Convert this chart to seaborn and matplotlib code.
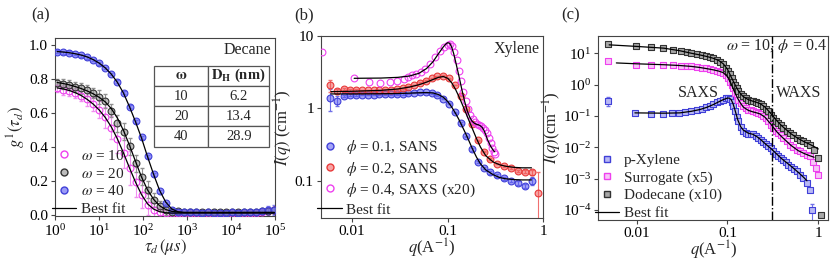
import matplotlib
matplotlib.use("Agg")
import matplotlib.pyplot as plt
from matplotlib.lines import Line2D
from matplotlib.ticker import NullLocator, LogLocator, FixedLocator
import seaborn as sns

# ---------------- panel (a): DLS correlation, decane ----------------
tau = [1.12, 1.54, 2.11, 2.89, 3.96, 5.43, 7.45, 10.2, 14.0, 19.2, 26.3, 36.1, 49.4,
       67.8, 92.9, 127, 175, 239, 328, 450, 617, 846, 1160, 1590, 2180, 2990, 4100,
       5620, 7710, 10600, 14500, 19900, 27300, 37400, 51300, 70300, 96400]
g_w10 = [0.745, 0.735, 0.73, 0.718, 0.70, 0.68, 0.655, 0.62, 0.575, 0.515, 0.445, 0.365,
         0.278, 0.195, 0.12, 0.062, 0.03, 0.017, 0.012, 0.010, 0.012, 0.011, 0.010, 0.012,
         0.010, 0.011, 0.010, 0.009, 0.011, 0.010, 0.012, 0.011, 0.013, 0.015, 0.020, 0.025, 0.030]
g_w20 = [0.778, 0.772, 0.765, 0.755, 0.745, 0.733, 0.72, 0.695, 0.672, 0.615, 0.54, 0.49,
         0.405, 0.305, 0.225, 0.15, 0.09, 0.052, 0.028, 0.02, 0.022, 0.020, 0.021, 0.020,
         0.019, 0.020, 0.021, 0.020, 0.019, 0.020, 0.018, 0.020, 0.021, 0.020, 0.022, 0.025, 0.028]
g_w40 = [0.962, 0.958, 0.955, 0.948, 0.94, 0.928, 0.912, 0.893, 0.866, 0.83, 0.785, 0.72,
         0.637, 0.552, 0.457, 0.345, 0.24, 0.14, 0.072, 0.03, 0.02, 0.017, 0.016, 0.016,
         0.015, 0.016, 0.015, 0.014, 0.015, 0.016, 0.015, 0.016, 0.018, 0.020, 0.022, 0.028, 0.030]
e_w10 = [0.02, 0.03, 0.03, 0.03, 0.03, 0.04, 0.04, 0.05, 0.06, 0.07, 0.08, 0.09, 0.10,
         0.09, 0.08, 0.06, 0.04, 0.03, 0.02, 0.008, 0.01, 0.008, 0.01, 0.008, 0.01, 0.008,
         0.01, 0.008, 0.01, 0.008, 0.01, 0.008, 0.01, 0.01, 0.012, 0.015, 0.02]
e_w20 = [0.02, 0.03, 0.03, 0.03, 0.03, 0.03, 0.03, 0.04, 0.04, 0.04, 0.05, 0.05, 0.05,
         0.05, 0.05, 0.05, 0.04, 0.03, 0.03, 0.02, 0.015, 0.012, 0.015, 0.012, 0.012, 0.012,
         0.012, 0.01, 0.01, 0.01, 0.01, 0.01, 0.01, 0.01, 0.012, 0.015, 0.02]
e_w40 = [0.008, 0.008, 0.008, 0.008, 0.008, 0.008, 0.008, 0.008, 0.008, 0.008, 0.008, 0.008,
         0.008, 0.008, 0.008, 0.008, 0.008, 0.008, 0.008, 0.008, 0.008, 0.005, 0.005, 0.005,
         0.005, 0.005, 0.005, 0.005, 0.005, 0.005, 0.005, 0.005, 0.006, 0.008, 0.01, 0.025, 0.03]
fit_w10 = [0.748, 0.742, 0.733, 0.72, 0.703, 0.68, 0.652, 0.617, 0.573, 0.517, 0.447, 0.365,
           0.277, 0.193, 0.12, 0.066, 0.035, 0.02, 0.014, 0.012, 0.012, 0.012, 0.012, 0.012,
           0.012, 0.012, 0.012, 0.012, 0.012, 0.012, 0.012, 0.012, 0.012, 0.012, 0.012, 0.012, 0.012]
fit_w20 = [0.78, 0.774, 0.766, 0.756, 0.744, 0.73, 0.713, 0.692, 0.665, 0.625, 0.57, 0.497,
           0.41, 0.315, 0.223, 0.148, 0.092, 0.055, 0.033, 0.022, 0.018, 0.016, 0.016, 0.016,
           0.016, 0.016, 0.016, 0.016, 0.016, 0.016, 0.016, 0.016, 0.016, 0.016, 0.016, 0.016, 0.016]
fit_w40 = [0.962, 0.959, 0.955, 0.949, 0.941, 0.93, 0.914, 0.893, 0.865, 0.828, 0.78, 0.717,
           0.637, 0.548, 0.452, 0.343, 0.238, 0.145, 0.077, 0.036, 0.02, 0.015, 0.015, 0.015,
           0.015, 0.015, 0.015, 0.015, 0.015, 0.015, 0.015, 0.015, 0.015, 0.015, 0.015, 0.015, 0.015]
table_omega = ["10", "20", "40"]
table_dh = ["6.2", "13.4", "28.9"]

# ---------------- panel (b): SANS / SAXS, xylene ----------------
q_01 = [0.0058, 0.0069, 0.0082, 0.0095, 0.011, 0.0127, 0.0146, 0.0168, 0.0193, 0.0222,
        0.0255, 0.0293, 0.0337, 0.0388, 0.0446, 0.0513, 0.059, 0.0678, 0.078, 0.0897,
        0.103, 0.119, 0.136, 0.157, 0.18, 0.207, 0.238, 0.274, 0.33, 0.39, 0.46, 0.54, 0.64, 0.76]
I_01 = [1.38, 1.28, 1.48, 1.53, 1.54, 1.55, 1.55, 1.55, 1.56, 1.56, 1.57, 1.56, 1.58, 1.62,
        1.65, 1.67, 1.67, 1.63, 1.52, 1.36, 1.15, 0.88, 0.63, 0.41, 0.27, 0.18, 0.148, 0.13,
        0.118, 0.107, 0.1, 0.093, 0.085, 0.1]
e_01 = [0.45, 0.2, 0.05, 0.04, 0.04, 0.03, 0.03, 0.03, 0.03, 0.03, 0.03, 0.03, 0.03, 0.03,
        0.03, 0.03, 0.03, 0.03, 0.03, 0.03, 0.02, 0.02, 0.02, 0.01, 0.01, 0.005, 0.005, 0.005,
        0.005, 0.005, 0.005, 0.005, 0.006, 0.012]
q_02 = [0.0058, 0.0069, 0.0082, 0.0095, 0.011, 0.0127, 0.0146, 0.0168, 0.0193, 0.0222,
        0.0255, 0.0293, 0.0337, 0.0388, 0.0446, 0.0513, 0.059, 0.0678, 0.078, 0.0897,
        0.103, 0.119, 0.136, 0.157, 0.18, 0.207, 0.238, 0.274, 0.33, 0.39, 0.46, 0.54, 0.64,
        0.76, 0.87]
I_02 = [2.1, 1.72, 1.84, 1.8, 1.79, 1.78, 1.77, 1.77, 1.78, 1.79, 1.81, 1.84, 1.9, 1.98,
        2.1, 2.25, 2.42, 2.6, 2.78, 2.82, 2.6, 2.1, 1.5, 0.97, 0.6, 0.36, 0.25, 0.2, 0.172,
        0.16, 0.148, 0.137, 0.133, 0.13, 0.068]
e_02 = [0.4, 0.12, 0.05, 0.04, 0.04, 0.03, 0.03, 0.03, 0.03, 0.03, 0.03, 0.03, 0.03, 0.03,
        0.03, 0.03, 0.03, 0.03, 0.03, 0.03, 0.03, 0.02, 0.02, 0.01, 0.01, 0.005, 0.005, 0.005,
        0.005, 0.005, 0.005, 0.005, 0.006, 0.01, 0.065]
q_04 = [0.00487, 0.0105, 0.0149, 0.0197, 0.0251, 0.0295, 0.0345, 0.0385, 0.0425, 0.047,
        0.052, 0.058, 0.065, 0.073, 0.082, 0.092, 0.1, 0.105, 0.11, 0.117, 0.124, 0.131,
        0.138, 0.146, 0.154, 0.163, 0.172, 0.182, 0.192, 0.203, 0.214, 0.225, 0.236, 0.246,
        0.257, 0.268, 0.28, 0.292, 0.305, 0.315]
I_04 = [6.1, 2.6, 2.34, 2.27, 2.34, 2.42, 2.55, 2.7, 2.85, 3.0, 3.22, 3.55, 4.15, 5.1, 6.2,
        7.1, 7.6, 7.8, 7.3, 6.1, 4.6, 3.3, 2.4, 1.7, 1.25, 0.98, 0.8, 0.7, 0.64, 0.6, 0.58,
        0.57, 0.54, 0.5, 0.45, 0.39, 0.33, 0.28, 0.25, 0.23]
qf_sans = [0.006, 0.01, 0.02, 0.03, 0.04, 0.05, 0.06, 0.07, 0.08, 0.09, 0.1, 0.11, 0.12,
           0.13, 0.14, 0.15, 0.16, 0.18, 0.2, 0.22, 0.25, 0.3, 0.35, 0.4, 0.5, 0.6, 0.75]
fit_01 = [1.58, 1.58, 1.59, 1.6, 1.62, 1.64, 1.65, 1.63, 1.55, 1.42, 1.24, 1.04, 0.86, 0.71,
          0.58, 0.48, 0.4, 0.28, 0.21, 0.17, 0.14, 0.12, 0.11, 0.106, 0.103, 0.102, 0.102]
fit_02 = [1.7, 1.72, 1.77, 1.85, 1.97, 2.12, 2.3, 2.5, 2.68, 2.75, 2.6, 2.25, 1.85, 1.48,
          1.18, 0.95, 0.77, 0.53, 0.38, 0.29, 0.22, 0.18, 0.165, 0.158, 0.152, 0.15, 0.15]
qf_saxs = [0.0105, 0.02, 0.03, 0.04, 0.05, 0.06, 0.07, 0.08, 0.09, 0.095, 0.1, 0.105, 0.11,
           0.115, 0.12, 0.13, 0.14, 0.15, 0.16, 0.17, 0.18, 0.19, 0.2, 0.21, 0.22, 0.23, 0.24,
           0.25, 0.26, 0.28, 0.3, 0.31]
fit_04 = [2.6, 2.62, 2.68, 2.8, 3.05, 3.55, 4.4, 5.7, 7.1, 7.7, 8.1, 7.9, 7.0, 5.8, 4.6, 2.9,
          1.85, 1.25, 0.92, 0.75, 0.66, 0.62, 0.6, 0.59, 0.57, 0.54, 0.49, 0.43, 0.37, 0.3,
          0.26, 0.25]

# ---------------- panel (c): SAXS + WAXS ----------------
q_px = [0.0049, 0.0096, 0.0145, 0.0197, 0.0243, 0.029, 0.034, 0.04, 0.046, 0.052, 0.058,
        0.064, 0.07, 0.076, 0.083, 0.09, 0.096, 0.102, 0.107, 0.111, 0.116, 0.121, 0.126,
        0.131, 0.14, 0.149, 0.159, 0.169, 0.18, 0.192, 0.205, 0.218, 0.232, 0.248, 0.264,
        0.281, 0.3, 0.32, 0.34, 0.363, 0.387, 0.412, 0.44, 0.47, 0.5, 0.54, 0.578, 0.63,
        0.684, 0.745, 0.81, 0.845]
I_px = [0.3, 0.126, 0.118, 0.117, 0.12, 0.122, 0.13, 0.14, 0.155, 0.17, 0.19, 0.21, 0.24,
        0.27, 0.3, 0.33, 0.36, 0.37, 0.34, 0.27, 0.2, 0.14, 0.095, 0.067, 0.045, 0.034, 0.029,
        0.027, 0.027, 0.026, 0.023, 0.02, 0.017, 0.0145, 0.0125, 0.011, 0.0093, 0.0078, 0.006,
        0.0052, 0.0046, 0.004, 0.0034, 0.0028, 0.0024, 0.002, 0.0017, 0.0013, 0.00104,
        0.00072, 0.00044, 0.0001]
q_px_err = [0.0049, 0.845]
I_px_err = [0.3, 0.0001]
e_px = [0.1, 0.00006]
q_su = [0.0049, 0.0098, 0.0145, 0.0197, 0.025, 0.031, 0.036, 0.04, 0.046, 0.052, 0.058,
        0.064, 0.07, 0.076, 0.083, 0.09, 0.096, 0.102, 0.107, 0.111, 0.116, 0.121, 0.126,
        0.131, 0.14, 0.149, 0.159, 0.169, 0.18, 0.192, 0.205, 0.218, 0.232, 0.248, 0.264,
        0.281, 0.3, 0.32, 0.34, 0.363, 0.387, 0.412, 0.45, 0.488, 0.53, 0.578, 0.63, 0.684,
        0.745, 0.81, 0.88, 0.94, 1.0]
I_su = [5.55, 4.35, 4.35, 4.35, 4.2, 4.0, 3.9, 3.8, 3.6, 3.45, 3.3, 3.1, 2.95, 2.8, 2.6,
        2.35, 2.0, 1.63, 1.25, 1.0, 0.75, 0.54, 0.42, 0.33, 0.25, 0.2, 0.175, 0.16, 0.15,
        0.14, 0.132, 0.125, 0.112, 0.098, 0.083, 0.067, 0.052, 0.041, 0.034, 0.028, 0.024,
        0.02, 0.016, 0.012, 0.01, 0.0084, 0.0074, 0.0065, 0.0058, 0.0051, 0.0035, 0.0022, 0.0013]
q_do = [0.0049, 0.0098, 0.0145, 0.0197, 0.025, 0.031, 0.036, 0.04, 0.046, 0.052, 0.058,
        0.064, 0.07, 0.076, 0.083, 0.09, 0.096, 0.102, 0.107, 0.111, 0.116, 0.121, 0.126,
        0.131, 0.14, 0.149, 0.159, 0.169, 0.18, 0.192, 0.205, 0.218, 0.232, 0.248, 0.264,
        0.281, 0.3, 0.32, 0.34, 0.363, 0.387, 0.412, 0.45, 0.488, 0.53, 0.578, 0.63, 0.684,
        0.745, 0.81, 0.9, 1.0, 1.06]
I_do = [19.0, 16.7, 15.9, 14.8, 13.1, 11.6, 10.7, 9.8, 9.2, 8.6, 8.0, 7.5, 6.9, 6.3, 5.4,
        4.4, 3.5, 2.66, 2.1, 1.63, 1.25, 1.0, 0.78, 0.61, 0.5, 0.42, 0.37, 0.33, 0.31, 0.29,
        0.275, 0.26, 0.235, 0.2, 0.17, 0.14, 0.11, 0.085, 0.07, 0.059, 0.05, 0.041, 0.034,
        0.028, 0.024, 0.0197, 0.0175, 0.0155, 0.0137, 0.0121, 0.0084, 0.0045, 0.00007]
qf_px = [0.0096, 0.02, 0.03, 0.04, 0.05, 0.06, 0.07, 0.08, 0.09, 0.1, 0.105, 0.11, 0.115,
         0.12, 0.13, 0.14, 0.15, 0.17, 0.19, 0.21, 0.23, 0.26, 0.3, 0.35, 0.4, 0.5, 0.6, 0.7, 0.75]
fit_px = [0.125, 0.122, 0.125, 0.14, 0.16, 0.19, 0.23, 0.28, 0.33, 0.37, 0.37, 0.33, 0.25,
          0.17, 0.075, 0.045, 0.035, 0.028, 0.026, 0.022, 0.018, 0.013, 0.0092, 0.006, 0.0042,
          0.0025, 0.0016, 0.00105, 0.00085]
qf_su = [0.006, 0.01, 0.02, 0.03, 0.04, 0.05, 0.06, 0.07, 0.08, 0.09, 0.1, 0.11, 0.12, 0.13,
         0.14, 0.15, 0.17, 0.19, 0.21, 0.23, 0.26, 0.3, 0.35, 0.4, 0.5, 0.6, 0.7, 0.8, 0.9]
fit_su = [4.9, 4.6, 4.3, 4.05, 3.8, 3.5, 3.2, 2.95, 2.7, 2.4, 1.8, 1.05, 0.58, 0.36, 0.25,
          0.19, 0.15, 0.135, 0.125, 0.115, 0.09, 0.055, 0.031, 0.021, 0.0115, 0.0078, 0.0063,
          0.0054, 0.0048]
qf_do = [0.005, 0.01, 0.02, 0.03, 0.04, 0.05, 0.06, 0.07, 0.08, 0.09, 0.1, 0.11, 0.12, 0.13,
         0.14, 0.15, 0.17, 0.19, 0.21, 0.23, 0.26, 0.3, 0.35, 0.4, 0.5, 0.6, 0.7, 0.8, 0.9, 1.0]
fit_do = [18.5, 16.5, 14.5, 12.0, 10.0, 8.8, 7.8, 6.9, 5.9, 4.6, 3.1, 1.75, 1.05, 0.68, 0.5,
          0.41, 0.33, 0.295, 0.27, 0.245, 0.19, 0.12, 0.07, 0.047, 0.027, 0.019, 0.015,
          0.0125, 0.0105, 0.0088]
q_saxs_waxs = 0.31

# ---------------- style ----------------
sns.set_style("ticks")
plt.rcParams["font.family"] = ["Liberation Serif", "DejaVu Serif"]
plt.rcParams["mathtext.fontset"] = "stix"
plt.rcParams["font.size"] = 11
plt.rcParams["axes.edgecolor"] = "#444444"
plt.rcParams["axes.linewidth"] = 0.8
plt.rcParams["xtick.color"] = "#444444"
plt.rcParams["ytick.color"] = "#444444"
plt.rcParams["xtick.labelcolor"] = "black"
plt.rcParams["ytick.labelcolor"] = "black"
plt.rcParams["xtick.major.size"] = 3
plt.rcParams["ytick.major.size"] = 3

FS = 11
BLUE = "#4040d8"
PINK = "#ee40ee"
RED = "#e83a3a"

fig = plt.figure(figsize=(8.31, 2.64), dpi=100)
ax_a = fig.add_axes([0.0662, 0.182, 0.2647, 0.673])
ax_b = fig.add_axes([0.386, 0.173, 0.2679, 0.6905])
ax_c = fig.add_axes([0.72, 0.167, 0.2768, 0.697])


def points(ax, x, y, face, edge, marker="o", s=24, lw=0.8):
    sns.scatterplot(x=x, y=y, ax=ax, marker=marker, s=s, color=face,
                    edgecolor=edge, linewidth=lw, zorder=3, legend=False)


def fit(ax, x, y):
    sns.lineplot(x=x, y=y, ax=ax, color="k", lw=0.9, estimator=None,
                 sort=False, zorder=4, legend=False)


def legend(ax, handles, labels, y0):
    ax.legend(handles, labels, loc="lower left", bbox_to_anchor=(-0.015, y0),
              frameon=False, handlelength=1.6, handletextpad=0.3, labelspacing=0.25,
              borderpad=0, borderaxespad=0, fontsize=FS)


# ---- (a)
ax = ax_a
ax.errorbar(tau, g_w10, yerr=e_w10, fmt="none", ecolor="#f090f0", elinewidth=0.8, capsize=1.5, zorder=2)
ax.errorbar(tau, g_w20, yerr=e_w20, fmt="none", ecolor="#909090", elinewidth=0.8, capsize=1.5, zorder=2)
ax.errorbar(tau, g_w40, yerr=e_w40, fmt="none", ecolor="#8080f0", elinewidth=0.8, capsize=1.5, zorder=2)
points(ax, tau, g_w10, (1, 1, 1, 0), PINK)
points(ax, tau, g_w20, (0.6, 0.6, 0.6, 0.65), "#333333")
points(ax, tau, g_w40, (0.35, 0.35, 0.95, 0.6), BLUE)
fit(ax, tau, fit_w10)
fit(ax, tau, fit_w20)
fit(ax, tau, fit_w40)
ax.set_xscale("log")
ax.set_xlim(1, 1e5)
ax.set_ylim(-0.005, 1.04)
ax.xaxis.set_major_locator(LogLocator(base=10, numticks=10))
ax.xaxis.set_minor_locator(NullLocator())
ax.set_yticks([0.0, 0.2, 0.4, 0.6, 0.8, 1.0])
ax.set_xlabel(r"$\tau_d\,(\mu s)$", labelpad=-1, fontsize=12)
ax.set_ylabel(r"$g^{1}(\tau_d)$", labelpad=1, fontsize=12)
ax.text(0.985, 0.935, "Decane", transform=ax.transAxes, ha="right", va="center", fontsize=11.5)
tbl = ax.table(cellText=[[w, d] for w, d in zip(table_omega, table_dh)],
               colLabels=[r"$\mathbf{\omega}$", r"$\mathbf{D_H}$ (nm)"],
               cellLoc="center", bbox=[0.451, 0.39, 0.523, 0.456], colWidths=[0.47, 0.53])
tbl.auto_set_font_size(False)
for (r, c), cell in tbl.get_celld().items():
    cell.set_fontsize(10.5)
    cell.set_edgecolor("#555555")
    cell.set_linewidth(0.9)
    cell.set_facecolor("white")
    if r == 0:
        cell.get_text().set_fontweight("bold")
h_a = [Line2D([], [], marker="o", ls="none", ms=5, mfc="none", mec=PINK),
       Line2D([], [], marker="o", ls="none", ms=5, mfc=(0.6, 0.6, 0.6, 0.65), mec="#333333"),
       Line2D([], [], marker="o", ls="none", ms=5, mfc=(0.35, 0.35, 0.95, 0.6), mec=BLUE),
       Line2D([], [], color="k", lw=0.9)]
legend(ax, h_a, [r"$\omega$ = 10", r"$\omega$ = 20", r"$\omega$ = 40", "Best fit"], 0.0)

# ---- (b)
ax = ax_b
ax.errorbar(q_01, I_01, yerr=e_01, fmt="none", ecolor="#7070e8", elinewidth=0.8, capsize=1.5, zorder=2)
ax.errorbar(q_02, I_02, yerr=e_02, fmt="none", ecolor="#f07070", elinewidth=0.8, capsize=1.5, zorder=2)
points(ax, q_01, I_01, (0.35, 0.35, 0.95, 0.55), BLUE)
points(ax, q_02, I_02, (0.95, 0.35, 0.35, 0.55), RED)
points(ax, q_04, I_04, (1, 1, 1, 0), PINK)
fit(ax, qf_sans, fit_01)
fit(ax, qf_sans, fit_02)
fit(ax, qf_saxs, fit_04)
ax.set_xscale("log")
ax.set_yscale("log")
ax.set_xlim(0.0047, 1.0)
ax.set_ylim(0.03, 10)
ax.xaxis.set_major_locator(FixedLocator([0.01, 0.1, 1]))
ax.yaxis.set_major_locator(FixedLocator([0.1, 1, 10]))
ax.set_xticklabels(["0.01", "0.1", "1"])
ax.set_yticklabels(["0.1", "1", "10"])
ax.xaxis.set_minor_locator(NullLocator())
ax.yaxis.set_minor_locator(NullLocator())
ax.set_xlabel(r"$q$(A$^{-1}$)", labelpad=-1, fontsize=12)
ax.set_ylabel(r"$I(q)$ (cm$^{-1}$)", labelpad=0, fontsize=12)
ax.text(0.985, 0.93, "Xylene", transform=ax.transAxes, ha="right", va="center", fontsize=11.5)
h_b = [Line2D([], [], marker="o", ls="none", ms=5, mfc=(0.35, 0.35, 0.95, 0.55), mec=BLUE),
       Line2D([], [], marker="o", ls="none", ms=5, mfc=(0.95, 0.35, 0.35, 0.55), mec=RED),
       Line2D([], [], marker="o", ls="none", ms=5, mfc="none", mec=PINK),
       Line2D([], [], color="k", lw=0.9)]
legend(ax, h_b, [r"$\phi$ = 0.1, SANS", r"$\phi$ = 0.2, SANS", r"$\phi$ = 0.4, SAXS (x20)", "Best fit"], 0.01)

# ---- (c)
ax = ax_c
ax.errorbar(q_px_err, I_px_err, yerr=e_px, fmt="none", ecolor="#7070e8", elinewidth=0.8, capsize=1.5, zorder=2)
points(ax, q_px, I_px, "#b8b8f4", BLUE, marker="s", s=14, lw=0.8)
points(ax, q_su, I_su, "#f8c4f8", PINK, marker="s", s=14, lw=0.8)
points(ax, q_do, I_do, "#a8a8a8", "#333333", marker="s", s=14, lw=0.8)
fit(ax, qf_px, fit_px)
fit(ax, qf_su, fit_su)
fit(ax, qf_do, fit_do)
ax.axvline(q_saxs_waxs, color="k", ls="-.", lw=1.0, zorder=5)
ax.set_xscale("log")
ax.set_yscale("log")
ax.set_xlim(0.0038, 1.29)
ax.set_ylim(4.8e-5, 35.7)
ax.xaxis.set_major_locator(FixedLocator([0.01, 0.1, 1]))
ax.set_xticklabels(["0.01", "0.1", "1"])
ax.yaxis.set_major_locator(LogLocator(base=10, numticks=12))
ax.xaxis.set_minor_locator(NullLocator())
ax.yaxis.set_minor_locator(NullLocator())
ax.set_xlabel(r"$q$(A$^{-1}$)", labelpad=-1, fontsize=12)
ax.set_ylabel(r"$I(q)$(cm$^{-1}$)", labelpad=-1, fontsize=12)
ax.text(0.995, 0.945, r"$\omega$ = 10, $\phi$ = 0.4", transform=ax.transAxes, ha="right",
        va="center", fontsize=11.5)
ax.text(0.435, 0.69, "SAXS", transform=ax.transAxes, ha="center", va="center", fontsize=11.5)
ax.text(0.87, 0.69, "WAXS", transform=ax.transAxes, ha="center", va="center", fontsize=11.5)
h_c = [Line2D([], [], marker="s", ls="none", ms=4, mfc="#b8b8f4", mec=BLUE),
       Line2D([], [], marker="s", ls="none", ms=4, mfc="#f8c4f8", mec=PINK),
       Line2D([], [], marker="s", ls="none", ms=4, mfc="#a8a8a8", mec="#333333"),
       Line2D([], [], color="k", lw=0.9)]
legend(ax, h_c, ["p-Xylene", "Surrogate (x5)", "Dodecane (x10)", "Best fit"], 0.0)

for ax in (ax_a, ax_b, ax_c):
    ax.tick_params(labelsize=FS, pad=2)

fig.text(41 / 831, 1 - 15 / 264, "(a)", ha="center", va="center", fontsize=12)
fig.text(304 / 831, 1 - 15 / 264, "(b)", ha="center", va="center", fontsize=12)
fig.text(571 / 831, 1 - 15 / 264, "(c)", ha="center", va="center", fontsize=12)

fig.savefig("out.png", dpi=100)
